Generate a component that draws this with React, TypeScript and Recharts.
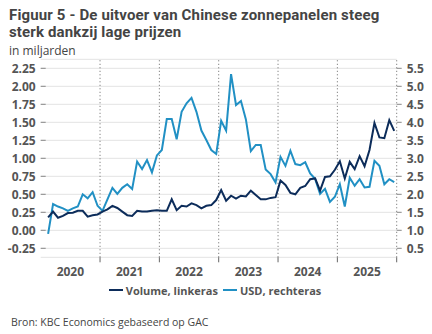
import React from 'react';
import { LineChart, Line, XAxis, YAxis, CartesianGrid, ReferenceLine } from 'recharts';

const months = [
  '2020-02','2020-03','2020-04','2020-05','2020-06','2020-07','2020-08','2020-09','2020-10','2020-11','2020-12',
  '2021-01','2021-02','2021-03','2021-04','2021-05','2021-06','2021-07','2021-08','2021-09','2021-10','2021-11','2021-12',
  '2022-01','2022-02','2022-03','2022-04','2022-05','2022-06','2022-07','2022-08','2022-09','2022-10','2022-11','2022-12',
  '2023-01','2023-02','2023-03','2023-04','2023-05','2023-06','2023-07','2023-08','2023-09','2023-10','2023-11','2023-12',
  '2024-01','2024-02','2024-03','2024-04','2024-05','2024-06','2024-07','2024-08','2024-09','2024-10','2024-11','2024-12',
  '2025-01','2025-02','2025-03','2025-04','2025-05','2025-06','2025-07','2025-08','2025-09','2025-10','2025-11','2025-12',
];

const volume = [
  0.18, 0.26, 0.175, 0.2, 0.24, 0.245, 0.27, 0.27, 0.19, 0.21, 0.22,
  0.26, 0.29, 0.34, 0.31, 0.26, 0.21, 0.2, 0.27, 0.26, 0.26, 0.27, 0.28,
  0.27, 0.27, 0.43, 0.28, 0.34, 0.33, 0.375, 0.35, 0.305, 0.34, 0.35, 0.42,
  0.56, 0.41, 0.48, 0.44, 0.48, 0.47, 0.55, 0.49, 0.43, 0.43, 0.45, 0.46,
  0.69, 0.63, 0.52, 0.5, 0.59, 0.615, 0.71, 0.72, 0.55, 0.74, 0.75, 0.84,
  0.96, 0.72, 0.95, 0.85, 1.03, 0.89, 1.115, 1.49, 1.29, 1.28, 1.53, 1.38,
];

const usd = [
  0.9, 1.73, 1.66, 1.61, 1.54, 1.61, 1.66, 2.0, 1.89, 2.06, 1.68,
  1.54, 1.86, 2.18, 2.01, 2.18, 2.28, 2.15, 2.91, 2.7, 2.95, 2.61, 3.08,
  3.23, 4.09, 4.09, 3.53, 4.29, 4.53, 4.68, 4.29, 3.77, 3.51, 3.23, 3.12,
  4.04, 3.77, 5.34, 4.48, 4.59, 4.08, 3.2, 3.37, 3.37, 2.69, 2.56, 2.33,
  3.04, 2.79, 3.21, 2.84, 2.81, 2.89, 2.58, 2.43, 2.01, 2.15, 1.79, 1.93,
  2.28, 1.66, 2.46, 2.24, 2.42, 2.19, 2.21, 2.93, 2.79, 2.28, 2.42, 2.34,
];

const years = ['2020', '2021', '2022', '2023', '2024', '2025'];
const leftTicks = [-0.25, 0, 0.25, 0.5, 0.75, 1, 1.25, 1.5, 1.75, 2, 2.25];
const rightTicks = [0.5, 1, 1.5, 2, 2.5, 3, 3.5, 4, 4.5, 5, 5.5];
const yearBoundaries = [12, 24, 36, 48, 60, 72];
const titleLines = ['Figuur 5 - De uitvoer van Chinese zonnepanelen steeg', 'sterk dankzij lage prijzen'];

const DARK = '#0c2c5a';
const LIGHT = '#2190c4';
const TEXT = '#555555';
const FONT = '"Open Sans", sans-serif';

const data = months.map((m, i) => {
  const [y, mo] = m.split('-').map(Number);
  return { x: (y - 2020) * 12 + (mo - 1) + 0.5, volume: volume[i], usd: usd[i] };
});

const CHART_W = 432;
const LEFT_W = 40.7;
const RIGHT_W = 35.3;
const yearPx = (CHART_W - LEFT_W - RIGHT_W) / years.length;

const XTick = (props: any) => {
  const { x, y, payload } = props;
  const idx = Math.round(payload.value / 12) - 1;
  const label = years[idx];
  if (!label) return null;
  return (
    <text x={x - yearPx / 2} y={y} dy="0.71em" textAnchor="middle" fill={TEXT}
      fontFamily={FONT} fontSize={12} fontWeight={700}>{label}</text>
  );
};

const LeftTick = (props: any) => {
  const { x, y, payload } = props;
  return (
    <g>
      <line x1={x + 5} x2={x + 10} y1={y} y2={y} stroke="#888" strokeWidth={1} />
      <text x={x} y={y} dy="0.355em" textAnchor="end" fill={TEXT}
        fontFamily={FONT} fontSize={12} fontWeight={700}>{payload.value.toFixed(2)}</text>
    </g>
  );
};

const RightTick = (props: any) => {
  const { x, y, payload } = props;
  return (
    <text x={x} y={y} dy="0.355em" textAnchor="start" fill={TEXT}
      fontFamily={FONT} fontSize={12} fontWeight={700}>{payload.value.toFixed(1)}</text>
  );
};

export default function App() {
  return (
    <div style={{ position: 'absolute', left: 0, top: 0, width: 432, height: 334, background: '#fff', fontFamily: FONT, overflow: 'hidden' }}>
      {titleLines.map((t, i) => (
        <div key={t} style={{ position: 'absolute', left: 9, top: 6.8 + i * 17.6, height: 17.6, fontFamily: 'Roboto, sans-serif', fontSize: 15, lineHeight: '17.6px', fontWeight: 700, color: '#444', whiteSpace: 'nowrap', letterSpacing: 0.15 }}>
          {t}
        </div>
      ))}
      <div style={{ position: 'absolute', left: 9, top: 44, height: 14, fontSize: 12, lineHeight: '14px', color: '#444' }}>
        in miljarden
      </div>
      <div style={{ position: 'absolute', left: 0, top: 0 }}>
        <LineChart width={CHART_W} height={334} data={data}
          margin={{ top: 59.3, right: 0, bottom: 46.7, left: 0 }}>
          <CartesianGrid yAxisId="left" vertical={false} stroke="#e3e3e3" strokeWidth={1} />
          <XAxis dataKey="x" type="number" domain={[0, 72]} ticks={yearBoundaries}
            axisLine={false} tickLine={{ stroke: '#666' }} tickSize={5} tickMargin={5}
            height={30} tick={<XTick />} interval={0} allowDataOverflow />
          <YAxis yAxisId="left" orientation="left" width={LEFT_W} domain={[-0.375, 2.375]}
            ticks={leftTicks} axisLine={false} tickLine={false} tickSize={0} tickMargin={5}
            tick={<LeftTick />} interval={0} allowDataOverflow />
          <YAxis yAxisId="right" orientation="right" width={RIGHT_W} domain={[0.25, 5.75]}
            ticks={rightTicks} axisLine={false} tickLine={{ stroke: '#888' }} tickSize={5} tickMargin={5}
            tick={<RightTick />} interval={0} allowDataOverflow />
          {yearBoundaries.map((b) => (
            <ReferenceLine key={b} x={b} yAxisId="left" stroke="#666" strokeDasharray="1 2.5" strokeWidth={1} />
          ))}
          <Line yAxisId="right" type="linear" dataKey="usd" stroke={LIGHT} strokeWidth={2} dot={false} isAnimationActive={false} />
          <Line yAxisId="left" type="linear" dataKey="volume" stroke={DARK} strokeWidth={2} dot={false} isAnimationActive={false} />
        </LineChart>
      </div>
      <div style={{ position: 'absolute', left: 0, width: 432, top: 282, height: 16, display: 'flex', justifyContent: 'center', alignItems: 'center', fontSize: 11, fontWeight: 700, color: TEXT, whiteSpace: 'nowrap', paddingRight: 2, boxSizing: 'border-box' }}>
        <span style={{ display: 'inline-block', width: 14, height: 2.5, background: DARK, marginRight: 3 }} />
        <span>Volume, linkeras</span>
        <span style={{ display: 'inline-block', width: 14, height: 2.5, background: LIGHT, marginLeft: 5, marginRight: 3 }} />
        <span>USD, rechteras</span>
      </div>
      <div style={{ position: 'absolute', left: 11, top: 316, fontSize: 10.5, lineHeight: '13px', color: '#444', whiteSpace: 'nowrap' }}>
        Bron: KBC Economics gebaseerd op GAC
      </div>
    </div>
  );
}
